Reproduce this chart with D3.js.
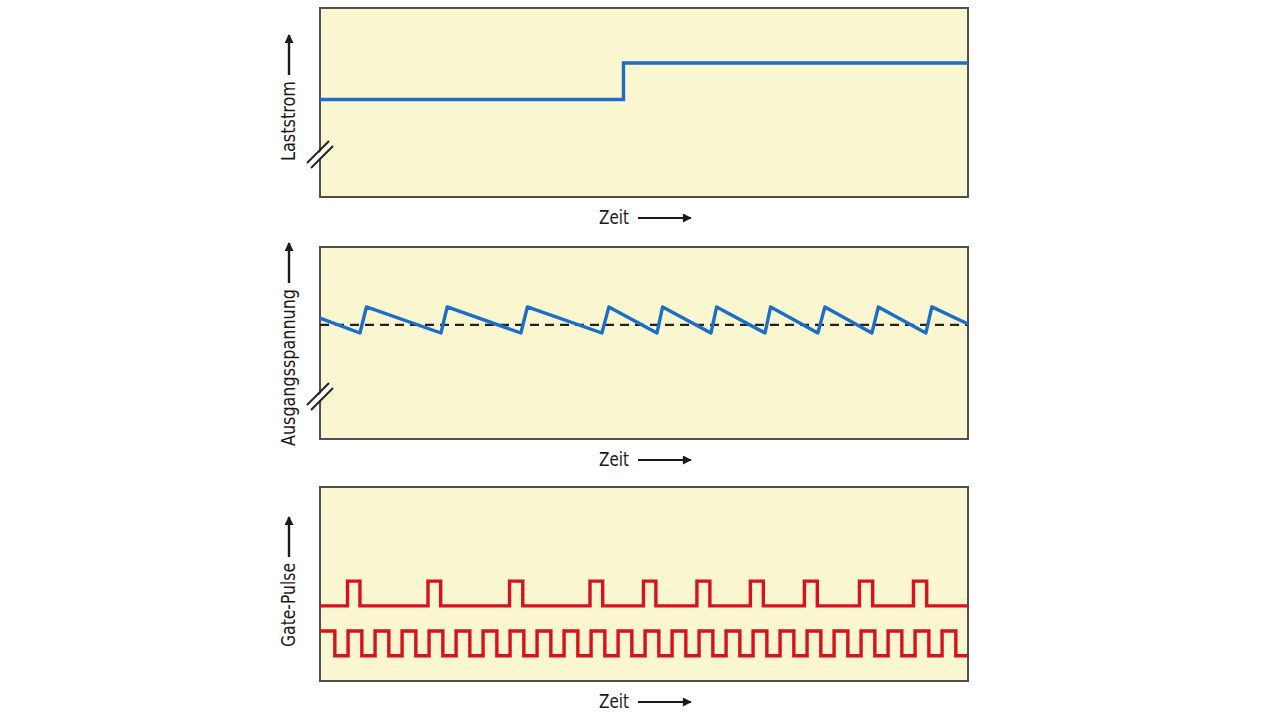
<!DOCTYPE html>
<html>
<head>
<meta charset="utf-8">
<script src="https://cdn.jsdelivr.net/npm/d3@7"></script>
<style>
  html, body { margin: 0; padding: 0; background: #ffffff; }
  svg { display: block; }
  text { font-family: "DejaVu Sans Condensed", "Liberation Sans Narrow", sans-serif; fill: #1a1a1a; }
</style>
</head>
<body>
<svg id="chart" width="1280" height="719"></svg>
<script>
// ---------------- DATA (time in clock periods, values in arbitrary units 0..10) ----------------
const timeDomain = [0, 24];
const valueDomain = [0, 10];

const yLabels = ["Laststrom", "Ausgangsspannung", "Gate-Pulse"];
const xLabel = "Zeit";

// Panel 1: load current (step)
const loadTimes  = [0, 11.24, 24];
const loadValues = [5.16, 7.09, 7.09];

// Panel 2: output voltage (sawtooth) and reference level
const sawTimes  = [0, 1.48, 1.72, 4.48, 4.71, 7.44, 7.68, 10.44, 10.70, 12.48, 12.69,
                   14.48, 14.69, 16.48, 16.69, 18.44, 18.70, 20.44, 20.68, 22.44, 22.66, 24];
const sawValues = [6.30, 5.52, 6.88, 5.52, 6.88, 5.52, 6.88, 5.52, 6.88, 5.52, 6.88,
                   5.52, 6.88, 5.52, 6.88, 5.52, 6.88, 5.52, 6.88, 5.52, 6.88, 5.99];
const refVoltage = 5.94;

// Panel 3: gate pulses (upper train) and clock (lower train)
const gatePulseStarts = [1.02, 4.00, 7.02, 10.00, 11.98, 13.96, 15.94, 17.94, 19.98, 21.98];
const gatePulseEnds   = [1.48, 4.47, 7.51, 10.47, 12.44, 14.44, 16.42, 18.42, 20.47, 22.47];
const gateLevels = [3.87, 5.15];   // low, high
const clockFalls = [0.55, 1.55, 2.55, 3.55, 4.55, 5.55, 6.55, 7.55, 8.55, 9.55, 10.55, 11.55,
                    12.55, 13.55, 14.55, 15.55, 16.55, 17.55, 18.55, 19.55, 20.55, 21.55, 22.55, 23.55];
const clockRises = [1.04, 2.04, 3.04, 4.04, 5.04, 6.04, 7.04, 8.04, 9.04, 10.04, 11.04, 12.04,
                    13.04, 14.04, 15.04, 16.04, 17.04, 18.04, 19.04, 20.04, 21.04, 22.04, 23.04];
const clockLevels = [1.30, 2.58]; // low, high

// ---------------- LAYOUT ----------------
const svg = d3.select("#chart");
const left = 320, right = 968;
const panels = [
  { top: 8,   bottom: 197, labelBottom: 161, labelLen: 80,  breakY: 153 },
  { top: 247, bottom: 439, labelBottom: 446, labelLen: 157, breakY: 395 },
  { top: 487, bottom: 681, labelBottom: 647, labelLen: 84,  breakY: null }
];
const blue = "#1b6fc8", red = "#d6121d", fillCol = "#faf6d0", borderCol = "#505050";

const x = d3.scaleLinear().domain(timeDomain).range([left, right]);

const defs = svg.append("defs");
defs.append("marker").attr("id", "arrowhead")
  .attr("viewBox", "0 0 10 10").attr("refX", 9).attr("refY", 5)
  .attr("markerWidth", 12).attr("markerHeight", 9).attr("markerUnits", "userSpaceOnUse")
  .attr("orient", "auto")
  .append("path").attr("d", "M0,0 L10,5 L0,10 Z").attr("fill", "#1a1a1a");

panels.forEach((p, i) => {
  const y = d3.scaleLinear().domain(valueDomain).range([p.bottom, p.top]);
  p.y = y;
  const g = svg.append("g");
  g.append("rect").attr("x", left).attr("y", p.top)
    .attr("width", right - left).attr("height", p.bottom - p.top)
    .attr("fill", fillCol).attr("stroke", borderCol).attr("stroke-width", 2);

  // x label with arrow
  const zy = p.bottom + 27;
  g.append("text").attr("x", 599).attr("y", zy).attr("font-size", 19)
    .attr("textLength", 30).attr("lengthAdjust", "spacingAndGlyphs").text(xLabel);
  g.append("line").attr("x1", 638).attr("x2", 691).attr("y1", zy - 6).attr("y2", zy - 6)
    .attr("stroke", "#1a1a1a").attr("stroke-width", 2.2).attr("marker-end", "url(#arrowhead)");

  // y label rotated with arrow
  g.append("text")
    .attr("transform", `translate(${295},${p.labelBottom}) rotate(-90)`)
    .attr("font-size", 19).attr("textLength", p.labelLen).attr("lengthAdjust", "spacingAndGlyphs")
    .text(yLabels[i]);
  const aStart = p.labelBottom - p.labelLen - 6;
  g.append("line").attr("x1", 289).attr("x2", 289).attr("y1", aStart).attr("y2", aStart - 40)
    .attr("stroke", "#1a1a1a").attr("stroke-width", 2.4).attr("marker-end", "url(#arrowhead)");

  // axis break marks
  if (p.breakY !== null) {
    const cx = left, cy = p.breakY;
    g.append("line").attr("x1", cx - 11).attr("y1", cy + 13).attr("x2", cx + 11).attr("y2", cy - 9)
      .attr("stroke", "#ffffff").attr("stroke-width", 4);
    [[-13, 10, 9, -12], [-9, 15, 13, -7]].forEach(d => {
      g.append("line").attr("x1", cx + d[0]).attr("y1", cy + d[1]).attr("x2", cx + d[2]).attr("y2", cy + d[3])
        .attr("stroke", "#222").attr("stroke-width", 2);
    });
  }
});

// Panel 1: load current
const y1 = panels[0].y;
const loadData = loadTimes.map((t, i) => [t, loadValues[i]]);
svg.append("path").datum(loadData)
  .attr("d", d3.line().x(d => x(d[0])).y(d => y1(d[1])).curve(d3.curveStepAfter))
  .attr("fill", "none").attr("stroke", blue).attr("stroke-width", 3.4);

// Panel 2: reference (dashed) and sawtooth
const y2 = panels[1].y;
svg.append("line").attr("x1", x(timeDomain[0])).attr("x2", x(timeDomain[1]))
  .attr("y1", y2(refVoltage)).attr("y2", y2(refVoltage))
  .attr("stroke", "#222").attr("stroke-width", 2.2).attr("stroke-dasharray", "9,6");
const sawData = sawTimes.map((t, i) => [t, sawValues[i]]);
svg.append("path").datum(sawData)
  .attr("d", d3.line().x(d => x(d[0])).y(d => y2(d[1])))
  .attr("fill", "none").attr("stroke", blue).attr("stroke-width", 3.4).attr("stroke-linejoin", "round");

// Panel 3: gate pulses and clock
const y3 = panels[2].y;
const gateData = [[timeDomain[0], gateLevels[0]]];
gatePulseStarts.forEach((s, i) => { gateData.push([s, gateLevels[1]]); gateData.push([gatePulseEnds[i], gateLevels[0]]); });
gateData.push([timeDomain[1], gateLevels[0]]);
const clockEdges = [[timeDomain[0], clockLevels[1]]];
clockFalls.forEach((f, i) => {
  clockEdges.push([f, clockLevels[0]]);
  if (i < clockRises.length) clockEdges.push([clockRises[i], clockLevels[1]]);
});
clockEdges.push([timeDomain[1], clockLevels[0]]);
const stepLine = d3.line().x(d => x(d[0])).y(d => y3(d[1])).curve(d3.curveStepAfter);
[gateData, clockEdges].forEach(data => {
  svg.append("path").datum(data).attr("d", stepLine)
    .attr("fill", "none").attr("stroke", red).attr("stroke-width", 3.4).attr("stroke-linejoin", "miter");
});
</script>
</body>
</html>
